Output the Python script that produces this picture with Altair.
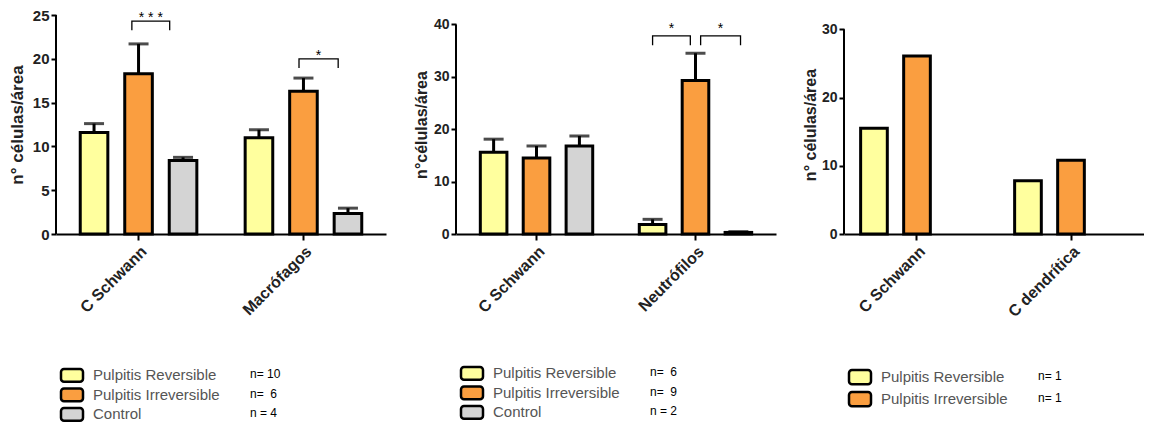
import altair as alt
import pandas as pd

series = ["Pulpitis Reversible", "Pulpitis Irreversible", "Control"]
colors = ["#FFFF9E", "#FA9E40", "#D4D4D4"]

# Panel 1
p1_groups = ["C Schwann", "Macrófagos"]
p1_rev = [11.6, 11.0]
p1_irr = [18.3, 16.3]
p1_ctl = [8.4, 2.35]
p1_rev_hi = [12.6, 11.9]
p1_irr_hi = [21.7, 17.8]
p1_ctl_hi = [8.75, 2.95]
p1_ticks = [0, 5, 10, 15, 20, 25]
p1_n = ["n= 10", "n=\u00a0\u00a06", "n = 4"]
p1_sig_group = ["C Schwann", "Macrófagos"]
p1_sig_x0 = [0.85, 0.9]     # bracket ends, in bar-slot units (0 = Reversible, 1 = Irreversible, 2 = Control)
p1_sig_x1 = [1.7, 1.78]
p1_sig_y = [24.3, 20.0]
p1_sig_text = ["* * *", "*"]

# Panel 2
p2_groups = ["C Schwann", "Neutrófilos"]
p2_rev = [15.6, 1.8]
p2_irr = [14.5, 29.3]
p2_ctl = [16.8, 0.3]
p2_rev_hi = [18.1, 2.8]
p2_irr_hi = [16.8, 34.5]
p2_ctl_hi = [18.7, 0.45]
p2_ticks = [0, 10, 20, 30, 40]
p2_n = ["n=\u00a0\u00a06", "n=\u00a0\u00a09", "n = 2"]
p2_sig_group = ["Neutrófilos", "Neutrófilos"]
p2_sig_x0 = [0.0, 1.12]
p2_sig_x1 = [0.88, 2.05]
p2_sig_y = [37.8, 37.8]
p2_sig_text = ["*", "*"]

# Panel 3
p3_groups = ["C Schwann", "C dendrítica"]
p3_rev = [15.5, 7.8]
p3_irr = [26.1, 10.8]
p3_ticks = [0, 10, 20, 30]
p3_n = ["n= 1", "n= 1"]

H = 219
FONT = "Liberation Sans"
PI_OFF = 0.38
C0 = (1 - PI_OFF) / 2   # position of first slot centre, in slot steps


def make_panel(groups, vals, his, sig, ticks, dom_max, ytitle, width, pad_in, pad_out,
               ylab_size, ytitle_size, xlab_size, title_pad, star_dy):
    k = len(vals)
    rows = []
    for si in range(k):
        for gi, g in enumerate(groups):
            r = {"group": g, "series": series[si], "value": vals[si][gi]}
            if his:
                r["hi"] = his[si][gi]
            rows.append(r)
    df = pd.DataFrame(rows)

    xaxis = alt.Axis(title=None, labelAngle=-45, labelAlign="right", labelBaseline="top",
                     labelFontWeight="bold", labelFontSize=xlab_size, labelColor="#222",
                     labelPadding=3, domainColor="black", domainWidth=2,
                     tickColor="black", tickWidth=2, tickSize=6, labelFont=FONT)
    yaxis = alt.Axis(title=ytitle, values=ticks, domain=False, grid=False,
                     labelFontWeight="bold", labelFontSize=ylab_size, labelColor="#222",
                     labelFont=FONT, labelPadding=2,
                     tickColor="black", tickWidth=2, tickSize=5,
                     titleFontWeight="bold", titleFontSize=ytitle_size, titleColor="#222",
                     titleFont=FONT, titlePadding=title_pad)
    xs = alt.Scale(paddingInner=pad_in, paddingOuter=pad_out)
    xos = alt.Scale(domain=series, paddingInner=PI_OFF, paddingOuter=0)
    ys = alt.Scale(domain=[0, dom_max], nice=False, zero=True)

    def X():
        return alt.X("group:N", sort=groups, scale=xs, axis=xaxis)

    def XO():
        return alt.XOffset("series:N", sort=series, scale=xos)

    def Y(field):
        return alt.Y(f"{field}:Q", scale=ys, axis=yaxis)

    bars = alt.Chart(df).mark_bar(stroke="black", strokeWidth=3).encode(
        x=X(), xOffset=XO(), y=Y("value"),
        fill=alt.Fill("series:N", scale=alt.Scale(domain=series, range=colors), legend=None),
    )
    layers = [bars]
    if his:
        err = alt.Chart(df).mark_rule(color="black", strokeWidth=3).encode(
            x=X(), xOffset=XO(), y=Y("value"), y2="hi:Q")
        cap = alt.Chart(df).mark_tick(color="black", thickness=3, size=20, orient="horizontal").encode(
            x=X(), xOffset=XO(), y=Y("hi"))
        layers += [err, cap]
    main = alt.layer(*layers)
    if sig:
        sg, sx0, sx1, sy, stxt = sig
        leg = dom_max * 0.042
        brows = []
        for i in range(len(sg)):
            pts = [(sx0[i], sy[i] - leg), (sx0[i], sy[i]), (sx1[i], sy[i]), (sx1[i], sy[i] - leg)]
            for j, (p, yv) in enumerate(pts):
                brows.append({"bid": i, "group": sg[i], "pos": p, "yv": yv, "ord": j})
        bdf = pd.DataFrame(brows)
        tdf = pd.DataFrame({"group": sg, "pos": [(a + b) / 2 for a, b in zip(sx0, sx1)],
                            "yv": sy, "label": stxt})
        qxo = alt.Scale(domain=[-C0, 2 + C0], nice=False, zero=False)
        br = alt.Chart(bdf).mark_line(color="black", strokeWidth=1.3).encode(
            x=X(), xOffset=alt.XOffset("pos:Q", scale=qxo), y=Y("yv"),
            order="ord:Q", detail="bid:N")
        tx = alt.Chart(tdf).mark_text(fontSize=14, font=FONT, color="black", dy=star_dy,
                                      baseline="alphabetic").encode(
            x=X(), xOffset=alt.XOffset("pos:Q", scale=qxo), y=Y("yv"), text="label:N")
        main = alt.layer(main, alt.layer(br, tx)).resolve_scale(xOffset="independent")
    ydom = alt.Chart(pd.DataFrame({"y0": [ticks[0]], "y1": [ticks[-1]]})).mark_rule(
        color="black", strokeWidth=2).encode(x=alt.value(0), y=Y("y0"), y2="y1:Q")
    return alt.layer(main, ydom).properties(width=width, height=H)


def make_legend(ns, width, step):
    k = len(ns)
    df = pd.DataFrame({"series": series[:k], "n": ns})
    h = step * (k - 0.35)
    yenc = alt.Y("series:N", sort=series[:k],
                 scale=alt.Scale(domain=series[:k], paddingInner=0.35, paddingOuter=0), axis=None)
    sw = alt.Chart(df).mark_rect(stroke="black", strokeWidth=2.5, cornerRadius=3).encode(
        x=alt.value(5), x2=alt.value(27), y=yenc,
        fill=alt.Fill("series:N", scale=alt.Scale(domain=series, range=colors), legend=None))
    lab = alt.Chart(df).mark_text(align="left", fontSize=15, font=FONT, color="#555").encode(
        x=alt.value(37), y=yenc, text="series:N")
    nt = alt.Chart(df).mark_text(align="left", fontSize=12, font=FONT, color="black", dy=-1).encode(
        x=alt.value(194), y=yenc, text="n:N")
    return alt.layer(sw, lab, nt).properties(width=width, height=h)


panel1 = make_panel(p1_groups, [p1_rev, p1_irr, p1_ctl], [p1_rev_hi, p1_irr_hi, p1_ctl_hi],
                    (p1_sig_group, p1_sig_x0, p1_sig_x1, p1_sig_y, p1_sig_text),
                    p1_ticks, 25, "n° células/área", 330, 0.293, 0.147, 15, 17, 16, 6, 1)
panel2 = make_panel(p2_groups, [p2_rev, p2_irr, p2_ctl], [p2_rev_hi, p2_irr_hi, p2_ctl_hi],
                    (p2_sig_group, p2_sig_x0, p2_sig_x1, p2_sig_y, p2_sig_text),
                    p2_ticks, 41.8, "n°células/área", 320, 0.293, 0.153, 14, 16, 16, 4, -3)
panel3 = make_panel(p3_groups, [p3_rev, p3_irr], None, None,
                    p3_ticks, 32.1, "n° células/área", 300, 0.268, 0.108, 14, 16, 16, 3, 0)

leg1 = make_legend(p1_n, 330, 19.5)
leg2 = make_legend(p2_n, 320, 19.5)
leg3 = make_legend(p3_n, 300, 22)

col1 = alt.vconcat(panel1, leg1, spacing=49)
col2 = alt.vconcat(panel2, leg2, spacing=49)
col3 = alt.vconcat(panel3, leg3, spacing=48)

chart = alt.hconcat(alt.hconcat(col1, col2, spacing=27), col3, spacing=26).properties(
    padding={"left": 0, "top": 0, "right": 0, "bottom": 0}
).configure(font=FONT).configure_view(stroke=None)

chart.save("out.html", embed_options={"renderer": "svg", "actions": False})
